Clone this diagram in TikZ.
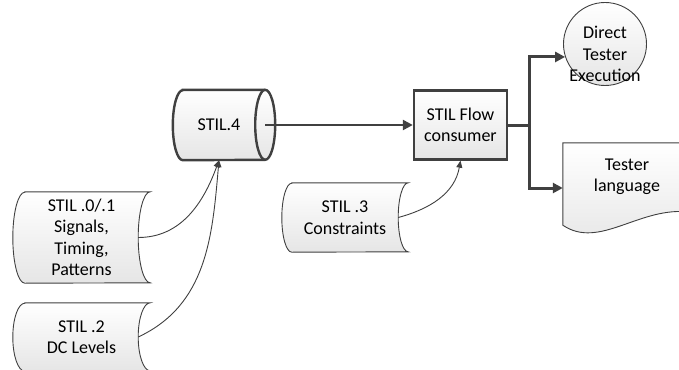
\documentclass[tikz,border=0pt]{standalone}
\usepackage{fontspec}
\setmainfont{Carlito}
\usetikzlibrary{arrows.meta,backgrounds}
\definecolor{edge}{HTML}{404040}
\begin{document}
\begin{tikzpicture}[x=1pt,y=1pt,font=\fontsize{18}{21.5}\selectfont,
txt/.style={align=center,inner sep=0pt},
shade/.style={top color=white,bottom color=black!10,draw=edge},
data/.style={shade,line width=0.9pt},
bold/.style={shade,line width=2.4pt},
feed/.style={-{Triangle[length=7pt,width=6pt]},edge,line width=0.9pt},
flowarr/.style={-{Triangle[length=10pt,width=10pt]},edge,line width=2.4pt},
trunk/.style={edge,line width=3pt}]
\useasboundingbox (0,0) rectangle (679,-369);
\node[txt,minimum width=137pt,minimum height=91pt] (stil01) at (81.5,-237.5) {STIL .0/.1\\Signals,\\Timing,\\Patterns};
\node[txt,minimum width=137pt,minimum height=68pt] (stil2) at (81.5,-337) {STIL .2\\DC Levels};
\node[txt,minimum width=126pt,minimum height=69pt] (stil3) at (345,-217.5) {STIL .3\\Constraints};
\node[txt,minimum width=92pt,minimum height=70pt] (stil4) at (219,-125) {STIL.4};
\node[bold,txt,minimum width=93pt,minimum height=69pt] (flow) at (460.5,-125) {STIL Flow\\consumer};
\node[data,circle,minimum size=83pt,inner sep=0pt,label={[txt,yshift=-10pt]center:{Direct\\Tester\\Execution}}] (dte) at (605,-44) {};
\node[txt,minimum width=128pt,minimum height=90pt,label={[txt,yshift=11pt]center:{Tester\\language}}] (tl) at (627,-188) {};
% outlines behind the texts
\begin{scope}[on background layer]
\draw[data] ([xshift=12pt]stil01.north west) -- (stil01.north east) arc[start angle=90,end angle=270,x radius=12pt,y radius=45.5pt] -- ([xshift=12pt]stil01.south west) arc[start angle=270,end angle=90,x radius=12pt,y radius=45.5pt] -- cycle;
\draw[data] ([xshift=12pt]stil2.north west) -- (stil2.north east) arc[start angle=90,end angle=270,x radius=12pt,y radius=34pt] -- ([xshift=12pt]stil2.south west) arc[start angle=270,end angle=90,x radius=12pt,y radius=34pt] -- cycle;
\draw[data] ([xshift=10pt]stil3.north west) -- (stil3.north east) arc[start angle=90,end angle=270,x radius=10pt,y radius=34.5pt] -- ([xshift=10pt]stil3.south west) arc[start angle=270,end angle=90,x radius=10pt,y radius=34.5pt] -- cycle;
\draw[bold] ([xshift=10pt]stil4.north west) -- (stil4.north east) arc[start angle=90,end angle=-90,x radius=10pt,y radius=35pt] -- ([xshift=10pt]stil4.south west) arc[start angle=270,end angle=90,x radius=10pt,y radius=35pt] -- cycle;
\draw[edge,line width=2.4pt] (stil4.north east) arc[start angle=90,end angle=270,x radius=10pt,y radius=35pt];
\draw[data] (tl.north west) -- (tl.north east) -- ([yshift=21pt]tl.south east) .. controls ([shift={(-51pt,28pt)}]tl.south east) and ([shift={(37pt,-17pt)}]tl.south west) .. ([yshift=8pt]tl.south west) -- cycle;
\end{scope}
% connectors
\draw[feed] ([xshift=-12pt]stil01.east) to[out=0,in=-110] (stil4.south);
\draw[feed] ([xshift=-12pt]stil2.east) to[out=25,in=-95] (stil4.south);
\draw[feed] ([xshift=-10pt]stil3.east) to[out=15,in=-100] (flow.south);
\draw[flowarr] (stil4.east) -- (flow.west);
\draw[trunk] (flow.east) -- ++(21pt,0) coordinate (fork);
\draw[trunk,-{Triangle[length=10pt,width=10pt]}] (fork) |- (dte.198);
\draw[trunk,-{Triangle[length=10pt,width=10pt]}] (fork) |- (tl.west);
\end{tikzpicture}
\end{document}
